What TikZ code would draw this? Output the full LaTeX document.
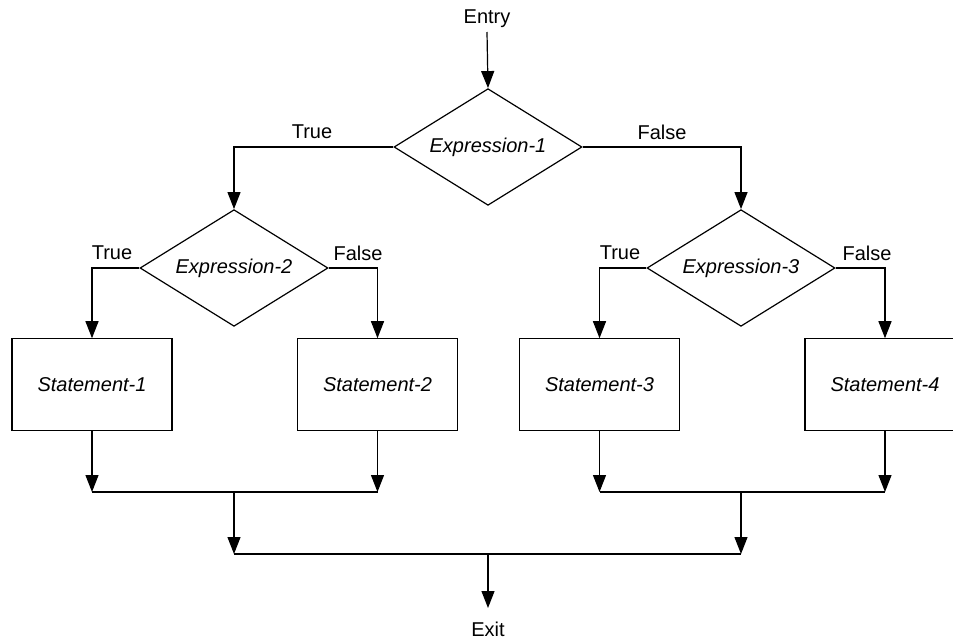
\documentclass[tikz,border=0pt]{standalone}
\usepackage{fontspec}
\setmainfont{Liberation Sans}
\usetikzlibrary{shapes.geometric,arrows.meta}
\begin{document}
\begin{tikzpicture}[x=0.75pt,y=-0.75pt,
  font=\fontsize{15}{18}\selectfont,
  line width=0.9pt,
  decision/.style={draw,diamond,aspect=1.6,inner sep=0pt,
    minimum width=141pt,minimum height=87.5pt,font=\fontsize{15}{18}\selectfont\itshape},
  stmt/.style={draw,rectangle,inner sep=0pt,
    minimum width=120pt,minimum height=68.5pt,font=\fontsize{15}{18}\selectfont\itshape},
  lbl/.style={inner sep=0pt},
  arr/.style={-{Triangle[length=12.75pt,width=9.75pt]}}]
\useasboundingbox (0,0) rectangle (953,639);

% decisions
\node[decision] (d1) at (488,147) {Expression-1};
\node[decision] (d2) at (234,268) {Expression-2};
\node[decision] (d3) at (741,268) {Expression-3};

% statements
\node[stmt] (s1) at (92,384.5)  {Statement-1};
\node[stmt] (s2) at (377.5,384.5) {Statement-2};
\node[stmt] (s3) at (599.5,384.5) {Statement-3};
\node[stmt] (s4) at (885,384.5) {Statement-4};

% entry and exit
\node[lbl] (entry) at (487,19) {Entry};
\node[lbl] (exit) at (488,629) {Exit};

% branch labels
\node[lbl] at (312,132) {True};
\node[lbl] at (662,132) {False};
\node[lbl] at (112,253) {True};
\node[lbl] at (358,253) {False};
\node[lbl] at (620,253) {True};
\node[lbl] at (867,253) {False};

% junction points
\coordinate (jl) at (234,492);
\coordinate (jr) at (741,492);
\coordinate (jb) at (488,554);
\coordinate (et) at (487,32);
\coordinate (xt) at (488,608);

% entry arrow
\draw[arr] (et) -- (d1.north);

% branches
\draw[arr] (d1.west) -| (d2.north);
\draw[arr] (d1.east) -| (d3.north);
\draw[arr] (d2.west) -| (s1.north);
\draw[arr] (d2.east) -| (s2.north);
\draw[arr] (d3.west) -| (s3.north);
\draw[arr] (d3.east) -| (s4.north);

% merging
\draw[arr] (s1.south) -- (s1.south |- jl);
\draw[arr] (s2.south) -- (s2.south |- jl);
\draw (s1.south |- jl) -- (s2.south |- jl);
\draw[arr] (s3.south) -- (s3.south |- jr);
\draw[arr] (s4.south) -- (s4.south |- jr);
\draw (s3.south |- jr) -- (s4.south |- jr);
\draw[arr] (jl) -- (jl |- jb);
\draw[arr] (jr) -- (jr |- jb);
\draw (jl |- jb) -- (jr |- jb);
\draw[arr] (jb) -- (xt);
\end{tikzpicture}
\end{document}
